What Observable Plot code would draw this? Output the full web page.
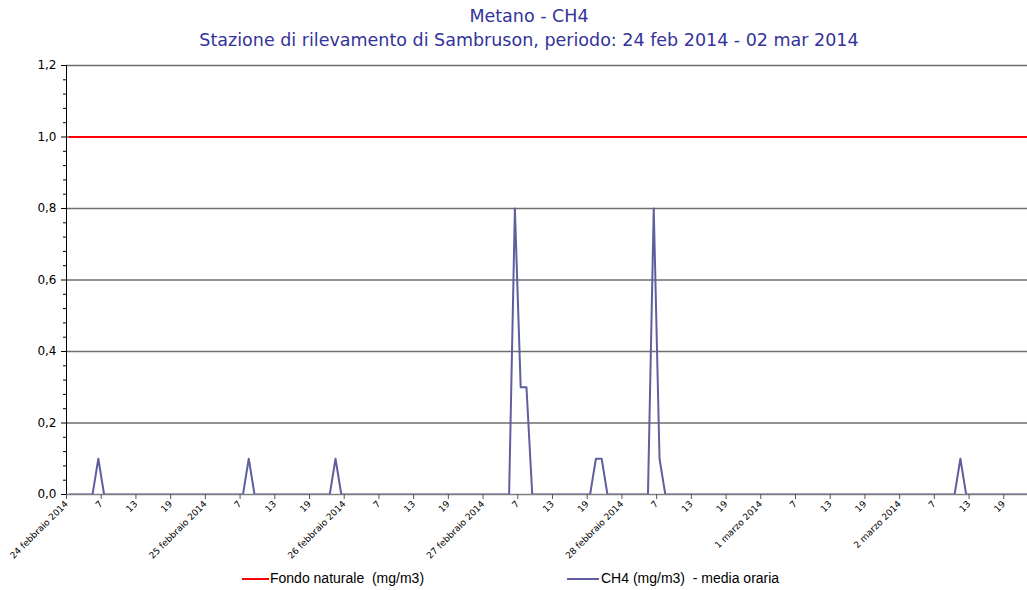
<!DOCTYPE html>
<html><head><meta charset="utf-8">
<script src="https://cdn.jsdelivr.net/npm/d3@7"></script>
<script src="https://cdn.jsdelivr.net/npm/@observablehq/plot@0.6"></script>
<style>
body{margin:0;background:#fff;width:1027px;height:590px;overflow:hidden;position:relative;font-family:"DejaVu Sans";}
#hdr{position:absolute;left:31px;right:0;top:4px;text-align:center;color:#333399;font-size:17.5px;line-height:24px;}
#chart{position:absolute;left:0;top:55px;}
#legend{position:absolute;top:567px;left:0;width:1027px;height:23px;font-family:"Liberation Sans";font-size:14px;color:#000;}
.sw{position:absolute;top:11px;height:2px;}
.lt{position:absolute;top:3px;white-space:pre;}
</style></head>
<body>
<div id="hdr"><div>Metano - CH4</div><div>Stazione di rilevamento di Sambruson, periodo: 24 feb 2014 - 02 mar 2014</div></div>
<div id="chart"></div>
<div id="legend">
  <div class="sw" style="left:242px;width:27px;background:#ff0000"></div><div class="lt" style="left:270px">Fondo naturale  (mg/m3)</div>
  <div class="sw" style="left:567px;width:32px;background:#5f5f9f"></div><div class="lt" style="left:601px">CH4 (mg/m3)  - media oraria</div>
</div>
<script>
// Day labels (first hour of each day) and in-day hour labels
const days = ["24 febbraio 2014","25 febbraio 2014","26 febbraio 2014","27 febbraio 2014","28 febbraio 2014","1 marzo 2014","2 marzo 2014"];
const hourLabels = ["7","13","19"];

// Hourly CH4 (mg/m3), hours 1..24 of each day
const ch4_24feb = [0,0,0,0,0,0.1,0,0,0,0,0,0,0,0,0,0,0,0,0,0,0,0,0,0];
const ch4_25feb = [0,0,0,0,0,0,0,0.1,0,0,0,0,0,0,0,0,0,0,0,0,0,0,0.1,0];
const ch4_26feb = [0,0,0,0,0,0,0,0,0,0,0,0,0,0,0,0,0,0,0,0,0,0,0,0];
const ch4_27feb = [0,0,0,0,0,0.8,0.3,0.3,0,0,0,0,0,0,0,0,0,0,0,0.1,0.1,0,0,0];
const ch4_28feb = [0,0,0,0,0,0.8,0.1,0,0,0,0,0,0,0,0,0,0,0,0,0,0,0,0,0];
const ch4_01mar = [0,0,0,0,0,0,0,0,0,0,0,0,0,0,0,0,0,0,0,0,0,0,0,0];
const ch4_02mar = [0,0,0,0,0,0,0,0,0,0,0.1,0,0,0,0,0,0,0,0,0,0,0,0,0];

// Fondo naturale (mg/m3)
const fondo = 1.0;

const yTicks = [0,0.2,0.4,0.6,0.8,1.0,1.2];
const gridValues = [0.2,0.4,0.6,0.8,1.0,1.2];

const ch4 = [].concat(ch4_24feb, ch4_25feb, ch4_26feb, ch4_27feb, ch4_28feb, ch4_01mar, ch4_02mar);
const rows = ch4.map((v, i) => ({i, ch4: v, fondo}));
const xTicks = d3.range(0, ch4.length, 6);
const minorY = d3.range(0, 31).map(k => k * 0.04).filter((v, k) => k % 5 !== 0);
const fmtX = i => (i % 24 === 0) ? days[i / 24] : hourLabels[(i % 24) / 6 - 1];
const fmtY = d => d3.format(".1f")(d).replace(".", ",");

const chart = Plot.plot({
  width: 1027, height: 512,
  marginTop: 10, marginBottom: 73, marginLeft: 66, marginRight: 0,
  x: {domain: [0, 166.1], label: null},
  y: {domain: [0, 1.2], label: null},
  style: {fontFamily: "DejaVu Sans", fontSize: "12px", background: "white", color: "#000"},
  marks: [
    Plot.ruleY(gridValues, {stroke: "#6e6e6e", strokeWidth: 1.3}),
    Plot.ruleY([0], {stroke: "#808080", strokeWidth: 1.3}),
    Plot.axisY({ticks: minorY, tickSize: 3, tickFormat: () => "", label: null, stroke: "#000"}),
    Plot.axisY({ticks: yTicks, tickSize: 5, tickPadding: 5, tickFormat: fmtY, label: null, stroke: "#000", fill: "#000", fontSize: 12}),
    Plot.axisX({ticks: xTicks, tickFormat: fmtX, tickRotate: -45, tickSize: 5, tickPadding: 3, label: null,
                fontSize: 9, fontFamily: "DejaVu Sans", stroke: "#555", fill: "#000"}),
    Plot.ruleX([0], {stroke: "#000"}),
    Plot.line(rows, {x: d => d.i + 0.5, y: "fondo", stroke: "#ff0000", strokeWidth: 2, clip: true}),
    Plot.line(rows, {x: d => d.i + 0.5, y: "ch4", stroke: "#5f5f9f", strokeWidth: 2, clip: true})
  ]
});
document.getElementById("chart").appendChild(chart);
</script>
</body></html>
